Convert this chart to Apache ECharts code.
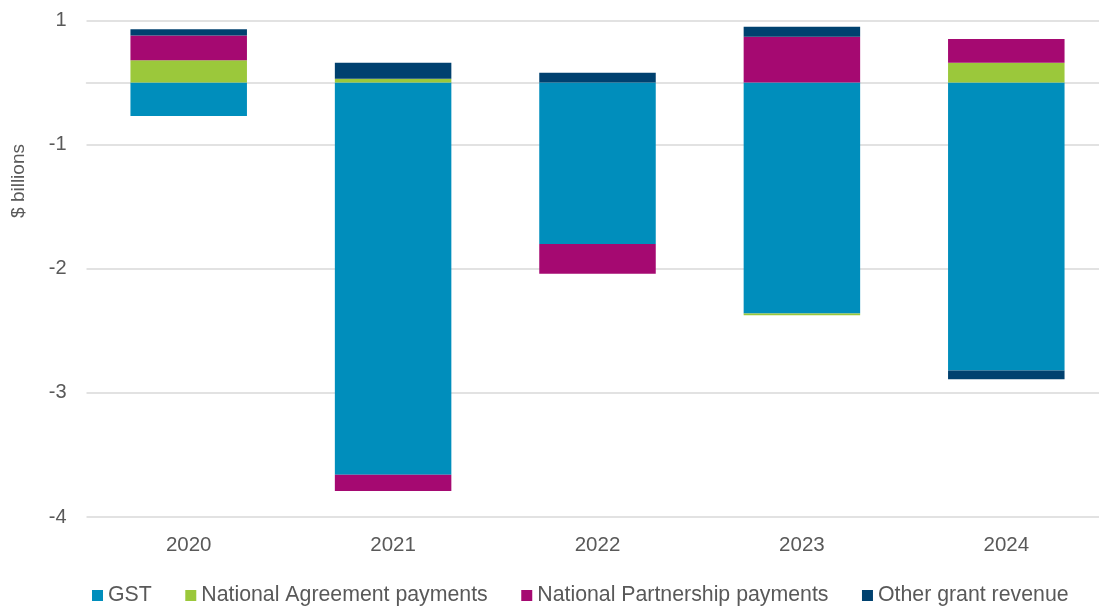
<!DOCTYPE html>
<html>
<head>
<meta charset="utf-8">
<script src="https://cdn.jsdelivr.net/npm/echarts@6/dist/echarts.min.js"></script>
<style>
  html, body { margin: 0; padding: 0; background: #fff; }
  #chart { width: 1099px; height: 606px; }
</style>
</head>
<body>
<div id="chart"></div>
<script>
// Change in grant revenue by component, $ billions
const years = ['2020', '2021', '2022', '2023', '2024'];
const gst = [-0.27, -3.16, -1.30, -1.86, -2.32];
const nationalAgreement = [0.18, 0.03, 0, -0.015, 0.16];
const nationalPartnership = [0.20, -0.13, -0.24, 0.37, 0.19];
const otherGrant = [0.05, 0.13, 0.08, 0.08, -0.07];

const seriesNames = ['GST', 'National Agreement payments', 'National Partnership payments', 'Other grant revenue'];
const seriesColors = ['#008EBC', '#9BC83B', '#A50971', '#00416F'];

const FONT = "'Liberation Sans', Arial, sans-serif";
const TEXT = '#595959';

// Tick values sit on half units; labels are rounded to whole numbers, away from zero
function tickLabel(v) {
  const r = Math.sign(v) * Math.round(Math.abs(v));
  return String(r);
}

const chart = echarts.init(document.getElementById('chart'), null, { renderer: 'canvas' });

const valueSets = [gst, nationalAgreement, nationalPartnership, otherGrant];

chart.setOption({
  animation: false,
  textStyle: { fontFamily: FONT },
  grid: { left: 86.5, top: 20.5, width: 1022, height: 496.5, containLabel: false, outerBoundsMode: 'none' },
  legend: {
    top: 580,
    left: 87,
    icon: 'rect',
    itemWidth: 11,
    itemHeight: 11,
    itemGap: 33.5,
    textStyle: { fontSize: 21.3, color: TEXT, fontFamily: FONT },
    data: seriesNames
  },
  xAxis: {
    type: 'category',
    data: years,
    axisLine: { onZero: true, lineStyle: { color: '#D9D9D9', width: 1.5 } },
    axisTick: { show: false },
    axisLabel: { fontSize: 20.5, color: TEXT, margin: 18, fontFamily: FONT }
  },
  yAxis: {
    type: 'value',
    min: -3.5,
    max: 0.5,
    interval: 1,
    axisLine: { show: false },
    axisTick: { show: false },
    splitLine: { lineStyle: { color: '#D9D9D9', width: 1.5 } },
    axisLabel: { fontSize: 20, color: TEXT, margin: 20, formatter: tickLabel, fontFamily: FONT }
  },
  graphic: [{
    type: 'text',
    x: 19,
    y: 181,
    rotation: Math.PI / 2,
    style: {
      text: '$ billions',
      fontSize: 19,
      fill: TEXT,
      fontFamily: FONT,
      align: 'center',
      verticalAlign: 'middle'
    }
  }],
  series: seriesNames.map((name, i) => ({
    name: name,
    type: 'bar',
    stack: 'total',
    barWidth: 116.5,
    itemStyle: { color: seriesColors[i] },
    data: valueSets[i]
  }))
});
</script>
</body>
</html>
